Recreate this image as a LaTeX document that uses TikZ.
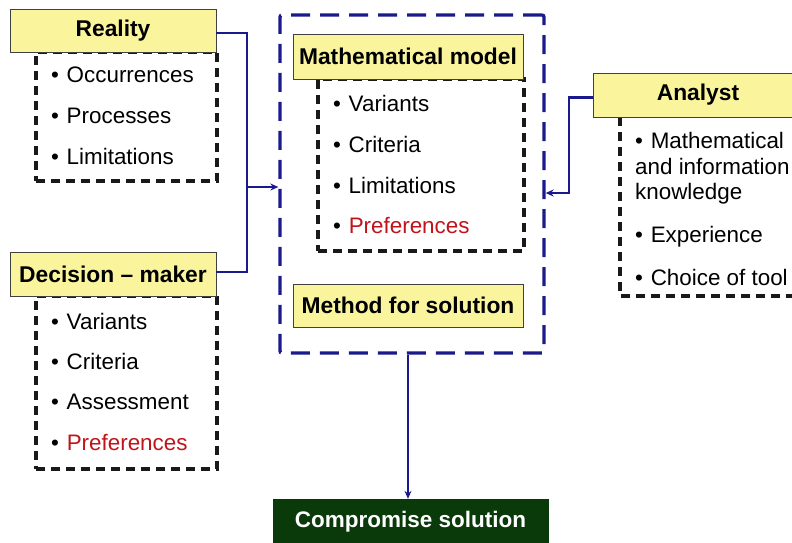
\documentclass[tikz,border=0pt]{standalone}
\usepackage{fontspec}
\setmainfont{Liberation Sans}
\usetikzlibrary{arrows.meta,calc}
\definecolor{hdryellow}{HTML}{FAF59C}
\definecolor{navyline}{HTML}{1A1A8C}
\definecolor{prefred}{HTML}{C0141B}
\definecolor{darkgreen}{HTML}{0A3A0A}
\tikzset{
  hdr/.style={draw=black!75, line width=0.9pt, fill=hdryellow, inner sep=0pt,
    font=\fontsize{22.8}{27}\selectfont\bfseries},
  bodybox/.style={draw=black!90, line width=3.1pt, dash pattern=on 9pt off 6pt, inner sep=0pt},
  outerbox/.style={draw=navyline, line width=3.3pt, dash pattern=on 19pt off 10pt, inner sep=0pt, rounded corners=2pt},
  item/.style={anchor=west, inner sep=0pt, font=\fontsize{22.4}{27}\selectfont},
  conn/.style={draw=navyline, line width=2.6pt, -{Stealth[length=8pt,width=7pt]}},
  connplain/.style={draw=navyline, line width=2.6pt},
}
\newcommand{\smbul}{•\hspace{1.5pt} }
\begin{document}
\begin{tikzpicture}[x=1pt,y=-1pt]
\useasboundingbox (0,0) rectangle (792,542);
\clip (0,0) rectangle (792,542);
% outer dashed box
\node[outerbox, minimum width=264pt, minimum height=338pt] (outer) at (412,184) {};
% Reality
\node[bodybox, minimum width=181pt, minimum height=129pt] (realityB) at (126.5,116.5) {};
\node[hdr, minimum width=206pt, minimum height=43pt] (realityH) at (113,30.5) {Reality};
\node[item] (r1) at (51,75) {\smbul Occurrences};
\node[item] (r2) at (51,116) {\smbul Processes};
\node[item] (r3) at (51,156) {\smbul Limitations};
% Decision-maker
\node[bodybox, minimum width=181pt, minimum height=173pt] (dmB) at (126.5,382.5) {};
\node[hdr, minimum width=206pt, minimum height=44pt] (dmH) at (113,274) {Decision – maker};
\node[item] (d1) at (51,321) {\smbul Variants};
\node[item] (d2) at (51,361) {\smbul Criteria};
\node[item] (d3) at (51,402) {\smbul Assessment};
\node[item] (d4) at (51,442) {\smbul \textcolor{prefred}{Preferences}};
% Mathematical model
\node[bodybox, minimum width=206pt, minimum height=172pt] (mmB) at (421,165) {};
\node[hdr, minimum width=230pt, minimum height=45pt] (mmH) at (408,56.5) {Mathematical model};
\node[item] (m1) at (333,103) {\smbul Variants};
\node[item] (m2) at (333,144) {\smbul Criteria};
\node[item] (m3) at (333,185) {\smbul Limitations};
\node[item] (m4) at (333,225) {\smbul \textcolor{prefred}{Preferences}};
% Method for solution
\node[hdr, minimum width=230pt, minimum height=43pt] (msH) at (408,305.5) {Method for solution};
% Analyst
\draw[bodybox] (620,117) -- (620,296) -- (800,296);
\node[hdr, minimum width=210pt, minimum height=44pt] (anH) at (698,95) {};
\node[inner sep=0pt, font=\fontsize{22.8}{27}\selectfont\bfseries] (anT) at (698,95) {Analyst};
\node[item] (a1) at (635,140) {\smbul Mathematical};
\node[item] (a2) at (635,166) {and information};
\node[item] (a3) at (635,194) {knowledge};
\node[item] (a4) at (635,237) {\smbul Experience};
\node[item] (a5) at (635,277) {\smbul Choice of tool};
% Compromise solution
\node[fill=darkgreen, draw=darkgreen, minimum width=275pt, minimum height=46pt, inner sep=0pt,
  text=white, font=\fontsize{22.5}{26}\selectfont\bfseries] (comp) at (410.5,522) {Compromise solution};
% connectors
\coordinate (joinL) at (247,187);
\coordinate (joinR) at (569,193);
\draw[connplain] ([yshift=-2.5pt]realityH.east) -| (joinL);
\draw[connplain] ([yshift=2pt]dmH.east) -| (joinL);
\draw[conn] (joinL) -- (outer.west |- joinL);
\draw[conn] ([yshift=-2.5pt]anH.west) -| (joinR) -- (outer.east |- joinR);
\draw[conn] ([xshift=-4pt]outer.south) -- ([xshift=-4pt]outer.south |- comp.north);
\end{tikzpicture}
\end{document}
